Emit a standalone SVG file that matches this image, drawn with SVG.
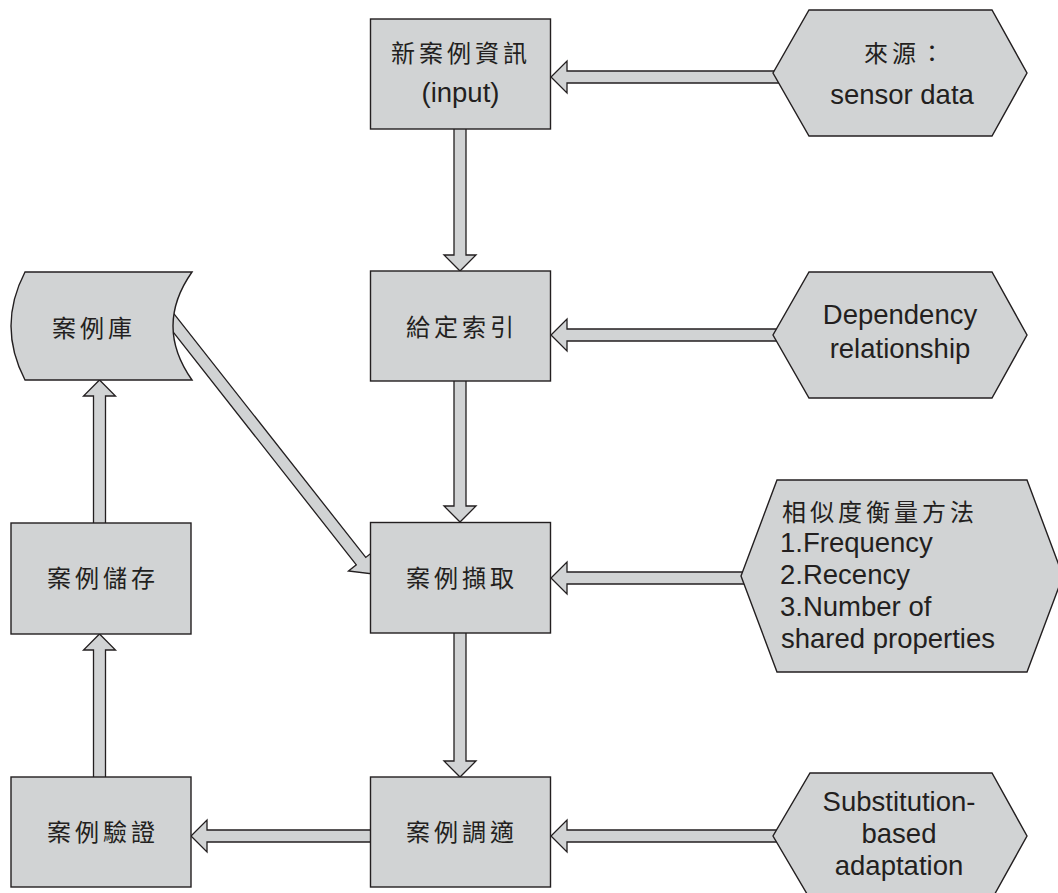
<svg xmlns="http://www.w3.org/2000/svg" width="1058" height="893" viewBox="0 0 1058 893">
  <style>
    .shape { fill: #d1d3d4; stroke: #231f20; stroke-width: 1.4; }
    .arrow { fill: #d1d3d4; stroke: #231f20; stroke-width: 1.3; stroke-linejoin: miter; }
    .zh { font-family: "Noto Sans CJK TC", "Noto Sans CJK SC", sans-serif; font-size: 24px; letter-spacing: 4px; fill: #231f20; }
    .en { font-family: "Liberation Sans", Arial, sans-serif; font-size: 27.5px; fill: #231f20; }
    .mid { text-anchor: middle; }
  </style>
  <rect width="1058" height="893" fill="#ffffff"/>

  <!-- block arrows between the steps -->
  <g id="connectors">
    <!-- input chain, top to bottom -->
    <path class="arrow" d="M454,125 V255 H444 L460,271 L476,255 H466 V125 Z"/>
    <path class="arrow" d="M454,378 V506 H444 L460,522 L476,506 H466 V378 Z"/>
    <path class="arrow" d="M454,630 V761 H444 L460,777 L476,761 H466 V630 Z"/>
    <!-- side inputs from the right -->
    <path class="arrow" d="M790,71 H567 V61 L551,77 L567,93 V83 H790 Z"/>
    <path class="arrow" d="M790,329 H567 V319 L551,335 L567,351 V341 H790 Z"/>
    <path class="arrow" d="M760,572 H567 V562 L551,578 L567,594 V584 H760 Z"/>
    <path class="arrow" d="M790,830 H567 V820 L551,836 L567,852 V842 H790 Z"/>
    <!-- adaptation to verification -->
    <path class="arrow" d="M374,830 H207 V820 L191,836 L207,852 V842 H374 Z"/>
    <!-- verification to storage to case base -->
    <path class="arrow" d="M93.5,780 V650 H83.5 L99.5,634 L115.5,650 H105.5 V780 Z"/>
    <path class="arrow" d="M93.5,526 V396 H83.5 L99.5,380 L115.5,396 H105.5 V526 Z"/>
    <!-- case base to retrieval -->
    <path class="arrow" transform="translate(165,312) rotate(51.8)" d="M0,-6 H317 V-16 L333,0 L317,16 V6 H0 Z"/>
  </g>

  <g id="new-case">
    <rect class="shape" x="370.5" y="19" width="180" height="110"/>
    <text class="zh" x="391" y="61.5">新案例資訊</text>
    <text class="en mid" x="460.5" y="101.5">(input)</text>
  </g>

  <g id="indexing">
    <rect class="shape" x="370.5" y="271" width="180" height="110"/>
    <text class="zh" x="406" y="336">給定索引</text>
  </g>

  <g id="retrieval">
    <rect class="shape" x="370.5" y="522.5" width="180" height="110.5"/>
    <text class="zh" x="406" y="587">案例擷取</text>
  </g>

  <g id="adaptation">
    <rect class="shape" x="370.5" y="777" width="180" height="110"/>
    <text class="zh" x="406" y="841">案例調適</text>
  </g>

  <g id="verification">
    <rect class="shape" x="11" y="777" width="180" height="110"/>
    <text class="zh" x="47" y="841">案例驗證</text>
  </g>

  <g id="storage">
    <rect class="shape" x="11" y="523" width="180" height="111"/>
    <text class="zh" x="47" y="587">案例儲存</text>
  </g>

  <g id="case-base">
    <path class="shape" d="M25,272 H192 Q154,326 192,380 H25 Q-3,326 25,272 Z"/>
    <text class="zh" x="52" y="337">案例庫</text>
  </g>

  <g id="source">
    <path class="shape" d="M809,10 H992 L1027,73 L992,136 H809 L773,73 Z"/>
    <text class="zh" x="864" y="62">來源：</text>
    <text class="en mid" x="902" y="104">sensor data</text>
  </g>

  <g id="dependency">
    <path class="shape" d="M809,272 H992 L1027,335 L992,398 H809 L773,335 Z"/>
    <text class="en mid" x="900" y="324">Dependency</text>
    <text class="en mid" x="900" y="358">relationship</text>
  </g>

  <g id="similarity">
    <path class="shape" d="M777,480 H1027 L1063,576 L1027,672 H777 L741,576 Z"/>
    <text class="zh" x="782" y="520.5">相似度衡量方法</text>
    <text class="en" x="780" y="551.5">1.Frequency</text>
    <text class="en" x="780" y="583.5">2.Recency</text>
    <text class="en" x="780" y="615.5">3.Number of</text>
    <text class="en" x="781" y="647.5">shared properties</text>
  </g>

  <g id="substitution">
    <path class="shape" d="M810,773 H992 L1027,836 L992,899 H810 L773,836 Z"/>
    <text class="en mid" x="899" y="810.5">Substitution-</text>
    <text class="en mid" x="899" y="843">based</text>
    <text class="en mid" x="899" y="875">adaptation</text>
  </g>
</svg>
